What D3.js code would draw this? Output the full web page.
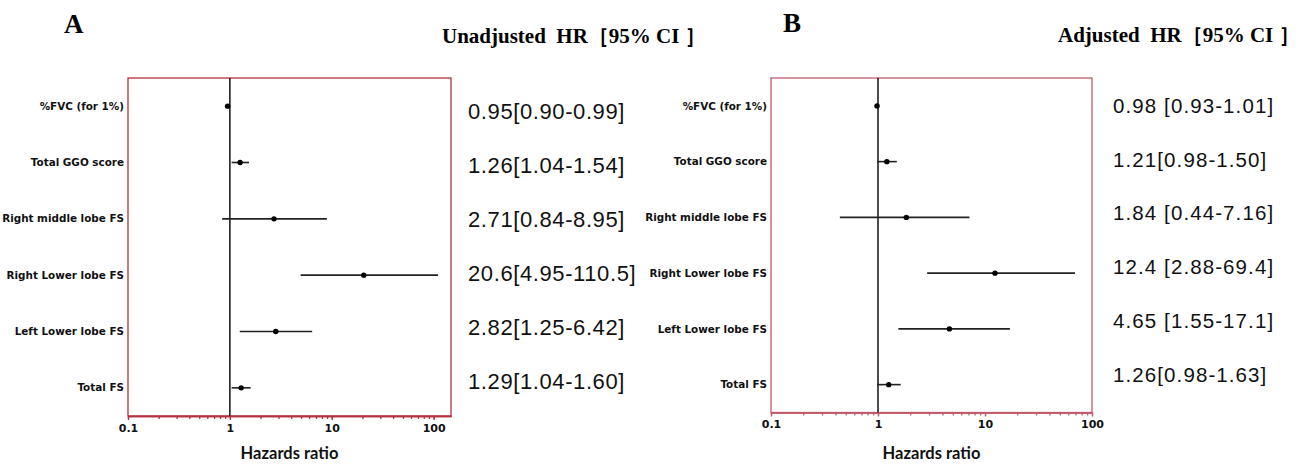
<!DOCTYPE html>
<html>
<head>
<meta charset="utf-8">
<script src="https://cdn.jsdelivr.net/npm/d3@7"></script>
<style>
  body { margin: 0; background: #fff; }
  svg { display: block; }
</style>
</head>
<body>
<script>
// rows, top to bottom
var factors = ["%FVC (for 1%)", "Total GGO score", "Right middle lobe FS",
               "Right Lower lobe FS", "Left Lower lobe FS", "Total FS"]

// A - unadjusted HR
var hrA = [0.95, 1.26, 2.71, 20.6, 2.82, 1.29]
var loA = [0.90, 1.04, 0.84, 4.95, 1.25, 1.04]
var hiA = [0.99, 1.54, 8.95, 110.5, 6.42, 1.60]
var textA = ["0.95[0.90-0.99]", "1.26[1.04-1.54]", "2.71[0.84-8.95]",
             "20.6[4.95-110.5]", "2.82[1.25-6.42]", "1.29[1.04-1.60]"]

// B - adjusted HR
var hrB = [0.98, 1.21, 1.84, 12.4, 4.65, 1.26]
var loB = [0.93, 0.98, 0.44, 2.88, 1.55, 0.98]
var hiB = [1.01, 1.50, 7.16, 69.4, 17.1, 1.63]
var textB = ["0.98 [0.93-1.01]", "1.21[0.98-1.50]", "1.84 [0.44-7.16]",
             "12.4 [2.88-69.4]", "4.65 [1.55-17.1]", "1.26[0.98-1.63]"]

var tickValues = [0.1, 1, 10, 100]
var tickLabels = ["0.1", "1", "10", "100"]

var width = 1306,
    height = 466

var svg = d3.select("body").append("svg")
    .attr("width", width)
    .attr("height", height)

svg.append("rect")
    .attr("width", width)
    .attr("height", height)
    .attr("fill", "#fff")

var panelA = {
    letter: "A", letterX: 64, letterY: 33,
    title: "Unadjusted  HR［95% CI ］", titleX: 442, titleY: 42.5,
    left: 128, right: 451, top: 78, bottom: 416, xmax: 148,
    frame: "#b3323f",
    valX: 468, valY0: 118.5, valStep: 54.1, valSize: 22, valSpacing: 0.6
}
var panelB = {
    letter: "B", letterX: 783, letterY: 32,
    title: "Adjusted  HR［95% CI ］", titleX: 1058, titleY: 42,
    left: 771, right: 1092, top: 78, bottom: 412.5, xmax: 100,
    frame: "#c25a6a",
    valX: 1113, valY0: 112.8, valStep: 53.8, valSize: 20.5, valSpacing: 1.1
}

function drawPanel(p, hr, lo, hi, labels) {
    var rows = factors.map(function(f, i) {
        return { name: f, hr: hr[i], lo: lo[i], hi: hi[i], text: labels[i] }
    })

    var x = d3.scaleLog()
        .domain([0.1, p.xmax])
        .range([p.left, p.right])
    var y = d3.scaleBand()
        .domain(factors)
        .range([p.top, p.bottom])
    // the HR column is a bit off the rows in the original
    var yv = d3.scalePoint()
        .domain(factors)
        .range([p.valY0, p.valY0 + p.valStep * (factors.length - 1)])

    var g = svg.append("g")

    // panel letter + column title
    g.append("text")
        .attr("x", p.letterX)
        .attr("y", p.letterY)
        .attr("font-family", "'Liberation Serif', 'Times New Roman', serif")
        .attr("font-weight", "bold")
        .attr("font-size", 27)
        .text(p.letter)
    g.append("text")
        .attr("x", p.titleX)
        .attr("y", p.titleY)
        .attr("font-family", "'Liberation Serif', 'Times New Roman', serif")
        .attr("font-weight", "bold")
        .attr("font-size", 21)
        .style("white-space", "pre")
        .text(p.title)

    // frame
    g.append("rect")
        .attr("x", p.left)
        .attr("y", p.top)
        .attr("width", p.right - p.left)
        .attr("height", p.bottom - p.top)
        .attr("fill", "none")
        .attr("stroke", p.frame)
        .attr("stroke-width", 1.3)

    // minor ticks
    var minor = g.append("g")
        .attr("transform", "translate(0," + p.bottom + ")")
        .call(d3.axisBottom(x).tickValues(x.ticks()).tickFormat("").tickSize(3).tickSizeOuter(0))
    // major ticks + labels
    var major = g.append("g")
        .attr("transform", "translate(0," + p.bottom + ")")
        .call(d3.axisBottom(x).tickValues(tickValues)
            .tickFormat(function(d, i) { return tickLabels[i] })
            .tickSize(4).tickSizeOuter(0).tickPadding(4))
    g.selectAll(".domain, .tick line")
        .attr("stroke", p.frame)
        .attr("stroke-width", 1.3)
    major.selectAll("text")
        .attr("fill", "#111")
        .attr("font-family", "'DejaVu Sans', Verdana, sans-serif")
        .attr("font-weight", "bold")
        .attr("font-size", 11)

    g.append("text")
        .attr("x", (p.left + p.right) / 2)
        .attr("y", 459)
        .attr("text-anchor", "middle")
        .attr("font-family", "Lato, sans-serif")
        .attr("font-weight", "bold")
        .attr("font-size", 16.5)
        .attr("fill", "#111")
        .text("Hazards ratio")

    // reference line at HR = 1
    g.append("line")
        .attr("x1", x(1)).attr("x2", x(1))
        .attr("y1", p.top).attr("y2", p.bottom)
        .attr("stroke", "#111")
        .attr("stroke-width", 1.5)

    // row labels
    g.selectAll(".rowlab")
        .data(rows)
        .enter()
        .append("text")
        .attr("class", "rowlab")
        .attr("x", p.left - 4)
        .attr("y", function(d) { return y(d.name) + y.bandwidth() / 2 })
        .attr("dy", "0.35em")
        .attr("text-anchor", "end")
        .attr("font-family", "'DejaVu Sans', Verdana, sans-serif")
        .attr("font-weight", "bold")
        .attr("font-size", 10.4)
        .attr("fill", "#111")
        .text(function(d) { return d.name })

    // CI whiskers
    g.selectAll(".ci")
        .data(rows)
        .enter()
        .append("line")
        .attr("class", "ci")
        .attr("x1", function(d) { return x(d.lo) })
        .attr("x2", function(d) { return x(d.hi) })
        .attr("y1", function(d) { return y(d.name) + y.bandwidth() / 2 })
        .attr("y2", function(d) { return y(d.name) + y.bandwidth() / 2 })
        .attr("stroke", "#222")
        .attr("stroke-width", 1.6)

    g.selectAll(".pt")
        .data(rows)
        .enter()
        .append("circle")
        .attr("class", "pt")
        .attr("cx", function(d) { return x(d.hr) })
        .attr("cy", function(d) { return y(d.name) + y.bandwidth() / 2 })
        .attr("r", 2.7)
        .attr("fill", "#000")

    // HR [95% CI] column
    g.selectAll(".val")
        .data(rows)
        .enter()
        .append("text")
        .attr("class", "val")
        .attr("x", p.valX)
        .attr("y", function(d) { return yv(d.name) })
        .attr("font-family", "'Liberation Sans', Arial, sans-serif")
        .attr("font-size", p.valSize)
        .attr("letter-spacing", p.valSpacing)
        .attr("fill", "#111")
        .style("white-space", "pre")
        .text(function(d) { return d.text })
}

drawPanel(panelA, hrA, loA, hiA, textA)
drawPanel(panelB, hrB, loB, hiB, textB)
</script>
</body>
</html>
